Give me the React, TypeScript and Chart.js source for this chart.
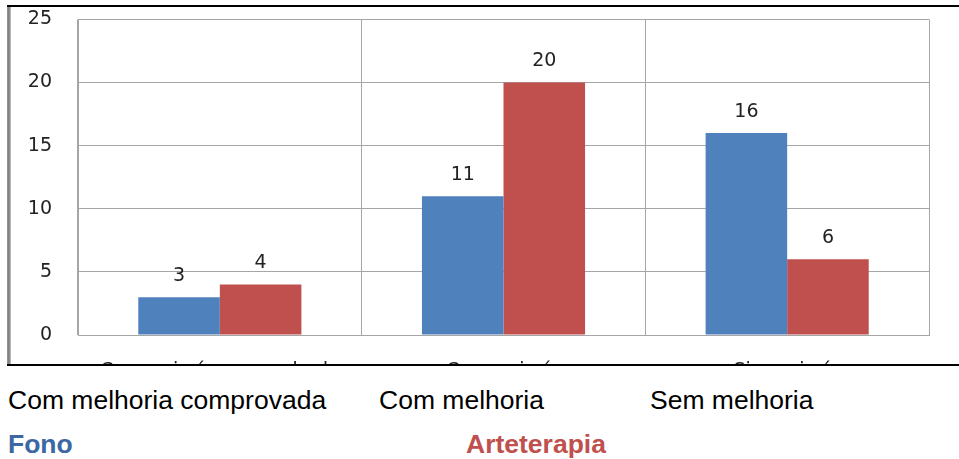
import React, { useEffect, useRef } from "react";
import { Chart, registerables } from "chart.js";

Chart.register(...registerables);

const categories = ["Con mejoría comprobada", "Con mejoría", "Sin mejoría"];
const seriesNames = ["Fono", "Arteterapia"];
const fonoValues = [3, 11, 16];
const arteValues = [4, 20, 6];
const yTicks = [0, 5, 10, 15, 20, 25];
const bottomLabels = ["Com melhoria comprovada", "Com melhoria", "Sem melhoria"];

const BLUE = "#4F81BD";
const RED = "#C0504D";

const valueLabelPlugin = {
  id: "valueLabels",
  afterDatasetsDraw(chart: any) {
    const ctx = chart.ctx;
    ctx.save();
    ctx.font = "19px 'DejaVu Sans'";
    ctx.fillStyle = "#222";
    ctx.textAlign = "center";
    ctx.textBaseline = "middle";
    chart.data.datasets.forEach((ds: any, i: number) => {
      const meta = chart.getDatasetMeta(i);
      meta.data.forEach((bar: any, j: number) => {
        ctx.fillText(String(ds.data[j]), bar.x, bar.y - 21);
      });
    });
    ctx.restore();
  },
};

export default function App() {
  const ref = useRef<HTMLCanvasElement>(null);
  useEffect(() => {
    if (!ref.current) return;
    const chart = new Chart(ref.current, {
      type: "bar",
      data: {
        labels: categories,
        datasets: [
          { label: seriesNames[0], data: fonoValues, backgroundColor: BLUE, borderWidth: 0 },
          { label: seriesNames[1], data: arteValues, backgroundColor: RED, borderWidth: 0 },
        ],
      },
      options: {
        animation: false,
        responsive: false,
        devicePixelRatio: 1,
        layout: { padding: { top: 0, right: 30, left: 0, bottom: 0 } },
        plugins: { legend: { display: false }, tooltip: { enabled: false } },
        datasets: { bar: { categoryPercentage: 0.575, barPercentage: 1 } },
        scales: {
          x: {
            grid: { color: "#A6A6A6", drawTicks: false, offset: true },
            border: { color: "#A6A6A6" },
            ticks: { font: { family: "'DejaVu Sans'", size: 19 }, color: "#222", padding: 25, maxRotation: 0, autoSkip: false },
            afterFit: (s: any) => { s.height = 52; },
          },
          y: {
            min: 0,
            max: 25,
            grid: { color: "#A6A6A6", drawTicks: false },
            border: { color: "#A6A6A6" },
            afterBuildTicks: (s: any) => { s.ticks = yTicks.map((v) => ({ value: v })); },
            ticks: { font: { family: "'DejaVu Sans'", size: 19 }, color: "#222", padding: 26 },
            afterFit: (s: any) => { s.width = 67; },
          },
        },
      },
      plugins: [valueLabelPlugin],
    });
    return () => chart.destroy();
  }, []);

  const textBase: React.CSSProperties = {
    position: "absolute",
    fontFamily: "'Liberation Sans', Arial, sans-serif",
    whiteSpace: "nowrap",
    lineHeight: 1,
  };

  return (
    <div style={{ position: "absolute", left: 0, top: 0, width: 959, height: 459, background: "#fff", overflow: "hidden" }}>
      <div style={{ position: "absolute", left: 11, top: 7, width: 948, height: 357, overflow: "hidden" }}>
        <canvas ref={ref} width={948} height={405} style={{ display: "block", position: "absolute", left: 0, top: -25 }} />
      </div>
      <div style={{ position: "absolute", left: 7, top: 5, right: 0, height: 2, background: "#000" }} />
      <div style={{ position: "absolute", left: 7, top: 7, width: 4, height: 357, background: "linear-gradient(to right, #9a9a9a, #7a7a7a 50%, #c8c8c8)" }} />
      <div style={{ position: "absolute", left: 7, top: 364, right: 0, height: 2, background: "#000" }} />
      <div style={{ ...textBase, left: 8, top: 387, fontSize: 26.5, color: "#000" }}>{bottomLabels[0]}</div>
      <div style={{ ...textBase, left: 379, top: 387, fontSize: 26.5, color: "#000" }}>{bottomLabels[1]}</div>
      <div style={{ ...textBase, left: 650, top: 387, fontSize: 26.5, color: "#000" }}>{bottomLabels[2]}</div>
      <div style={{ ...textBase, left: 8, top: 431, fontSize: 26.5, fontWeight: "bold", color: "#3C67A3" }}>{seriesNames[0]}</div>
      <div style={{ ...textBase, left: 466, top: 431, fontSize: 26.5, fontWeight: "bold", color: "#C0504D" }}>{seriesNames[1]}</div>
    </div>
  );
}
